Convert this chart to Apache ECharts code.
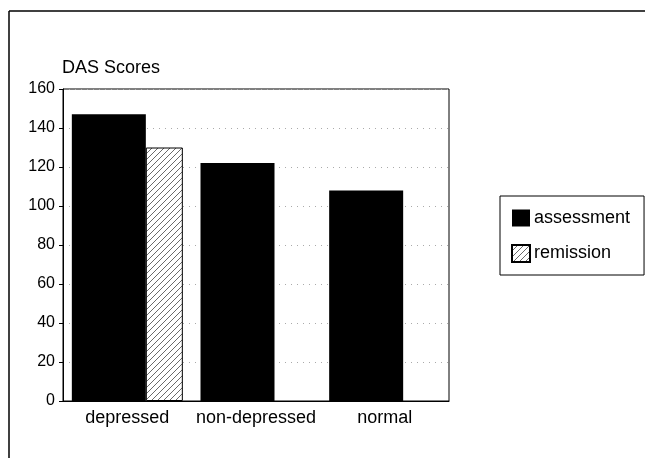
<!DOCTYPE html>
<html>
<head>
<meta charset="utf-8">
<script src="https://cdn.jsdelivr.net/npm/echarts@6/dist/echarts.min.js"></script>
<style>html,body{margin:0;padding:0;background:#fff}#c{width:645px;height:458px}</style>
</head>
<body>
<div id="c"></div>
<script>
var categories = ['depressed', 'non-depressed', 'normal'];
var assessment = [147, 122, 108];
var remission = [130, null, null];
var yTicks = [0, 20, 40, 60, 80, 100, 120, 140, 160];

function hatch() {
  var c = document.createElement('canvas');
  c.width = 6; c.height = 6;
  var g = c.getContext('2d');
  g.fillStyle = '#fff'; g.fillRect(0, 0, 6, 6);
  g.strokeStyle = '#444'; g.lineWidth = 0.8;
  g.beginPath();
  g.moveTo(0, 6); g.lineTo(6, 0);
  g.moveTo(-3, 3); g.lineTo(3, -3);
  g.moveTo(3, 9); g.lineTo(9, 3);
  g.stroke();
  return c;
}

var chart = echarts.init(document.getElementById('c'));
var font = 'Liberation Sans, Arial, Helvetica, sans-serif';
chart.setOption({
  animation: false,
  backgroundColor: '#fff',
  textStyle: { fontFamily: font, color: '#000' },
  title: {
    text: 'DAS Scores', left: 62, top: 59, padding: 0,
    textStyle: { fontFamily: font, fontWeight: 'normal', fontSize: 18, color: '#000' }
  },
  grid: {
    left: 63, right: 196, top: 89, bottom: 57,
    show: true, borderColor: '#000', borderWidth: 1, backgroundColor: 'transparent'
  },
  legend: {
    orient: 'vertical', left: 500, top: 196,
    padding: [13, 14, 12, 11], itemGap: 17,
    borderColor: '#000', borderWidth: 1,
    itemWidth: 18, itemHeight: 17,
    icon: 'rect',
    textStyle: { fontFamily: font, fontSize: 18, color: '#000', padding: [0, 0, 0, -1] },
    data: ['assessment', 'remission']
  },
  xAxis: {
    type: 'category', data: categories,
    axisLine: { lineStyle: { color: '#000' } },
    axisTick: { show: false },
    axisLabel: { fontFamily: font, fontSize: 18, color: '#000', margin: 8, interval: 0 }
  },
  yAxis: {
    type: 'value', min: 0, max: 160, interval: 20,
    axisLine: { show: true, lineStyle: { color: '#000' } },
    axisTick: { show: true, length: 4, lineStyle: { color: '#000' } },
    axisLabel: {
      fontFamily: font,
      fontSize: 16, color: '#000', margin: 8,
      formatter: function (v) { return yTicks.indexOf(v) >= 0 ? String(v) : ''; }
    },
    splitLine: { show: true, lineStyle: { color: '#aaa', type: [1, 5], width: 1 } }
  },
  series: [
    {
      name: 'assessment', type: 'bar', data: assessment,
      barWidth: 74, barGap: 0,
      itemStyle: { color: '#000', borderColor: '#000', borderWidth: 0 }
    },
    {
      name: 'remission', type: 'bar', data: remission,
      barWidth: 37, barGap: 0,
      itemStyle: { color: { image: hatch(), repeat: 'repeat' }, borderColor: '#000', borderWidth: 1 }
    }
  ],
  graphic: [
    { type: 'line', shape: { x1: 9, y1: 11, x2: 645, y2: 11 }, style: { stroke: '#000', lineWidth: 1.5 } },
    { type: 'line', shape: { x1: 9, y1: 11, x2: 9, y2: 458 }, style: { stroke: '#000', lineWidth: 1.5 } }
  ]
});
</script>
</body>
</html>
